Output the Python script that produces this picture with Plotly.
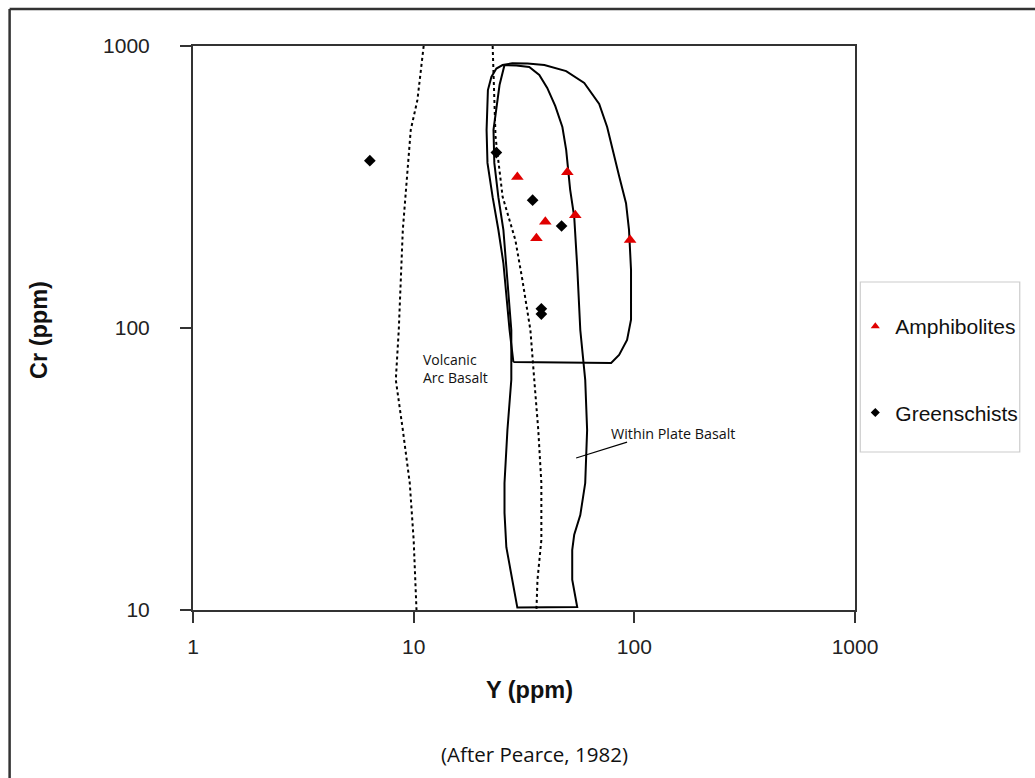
import numpy as np
import plotly.graph_objects as go

# ---------------- data ----------------
amph_y_ppm = [29.5, 49.7, 39.5, 36.0, 54.0, 95.7]
amph_cr_ppm = [343, 357, 238, 208, 251, 205]

green_y_ppm = [6.33, 23.7, 34.6, 46.8, 37.9, 37.9]
green_cr_ppm = [392, 419, 284, 230, 117, 112]

# Within Plate Basalt field (tall narrow polygon)
wpb_y = [25.8, 29.2, 33.4, 37.1, 40.3, 43.8, 47.2, 49.1, 51.2, 53.4, 55.1, 56.9,
         59.9, 61.1, 59.9, 56.9, 53.4, 52.3, 52.3, 54.5, 55.1, 29.5, 28.0, 26.3,
         25.8, 25.8, 26.6, 27.7, 27.7, 26.9, 26.3, 25.5, 24.2, 23.2, 23.0, 23.7,
         24.5, 25.8]
wpb_cr = [856, 853, 842, 789, 710, 613, 516, 428, 309, 248, 165, 98.4,
          65.5, 43.5, 28.2, 21.7, 18.5, 16.3, 12.8, 10.85, 10.25, 10.2, 12.8, 16.7,
          22.1, 28.2, 43.5, 65.5, 98.4, 129, 170, 223, 291, 385, 504, 593,
          727, 856]

# upper rounded field (closed at Cr ~ 75 ppm)
upper_y = [28.3, 78.5, 85.3, 92.7, 96.6, 96.6, 94.6, 91.7, 85.3, 80.1, 75.3, 69.3,
           59.3, 49.1, 39.1, 32.8, 28.0, 25.3, 23.7, 22.5, 21.7, 21.4, 21.6, 22.8,
           24.2, 25.5, 26.3, 27.2, 28.3]
upper_cr = [75.8, 75.1, 80.2, 90.7, 107, 161, 223, 277, 346, 428, 516, 623,
            739, 815, 856, 867, 868, 856, 832, 777, 698, 504, 385, 291,
            223, 170, 129, 98.4, 75.8]

# dotted boundaries
dot1_y = [11.1, 10.4, 9.7, 8.93, 8.56, 8.30, 8.93, 9.60, 10.0, 10.3]
dot1_cr = [1000, 644, 504, 223, 98.4, 65.5, 43.5, 28.2, 17.7, 10]

dot2_y = [22.8, 23.0, 23.5, 25.3, 28.9, 31.1, 33.8, 35.2, 36.7, 37.9, 37.9, 36.4, 36.0]
dot2_cr = [1000, 757, 475, 292, 205, 148, 98.4, 65.5, 43.5, 28.2, 17.7, 12.8, 10]

# label pointer line
ptr_y = [54.5, 92.7]
ptr_cr = [34.6, 39.4]

tick_vals = [1, 10, 100, 1000]
x_tick_text = ["1", "10", "100", "1000"]
y_tick_vals = [10, 100, 1000]
y_tick_text = ["10", "100", "1000"]

# ---------------- layout geometry ----------------
W, H = 1035, 778
L, R, T, B = 192.5, 856.7, 46, 610
pw, ph = R - L, B - T


def px(xp):
    return (xp - L) / pw


def py(yp):
    return (B - yp) / ph


fig = go.Figure()

line_style = dict(color="black", width=2)
dot_style = dict(color="black", width=2, dash="3px,3px")

fig.add_trace(go.Scatter(x=upper_y, y=upper_cr, mode="lines", line=line_style,
                         showlegend=False, hoverinfo="skip"))
fig.add_trace(go.Scatter(x=wpb_y, y=wpb_cr, mode="lines", line=line_style,
                         showlegend=False, hoverinfo="skip"))
fig.add_trace(go.Scatter(x=dot1_y, y=dot1_cr, mode="lines", line=dot_style,
                         showlegend=False, hoverinfo="skip"))
fig.add_trace(go.Scatter(x=dot2_y, y=dot2_cr, mode="lines", line=dot_style,
                         showlegend=False, hoverinfo="skip"))
fig.add_trace(go.Scatter(x=ptr_y, y=ptr_cr, mode="lines",
                         line=dict(color="black", width=1.2),
                         showlegend=False, hoverinfo="skip"))

amph_marker = dict(symbol="triangle-up", size=11, color="#e00000")
green_marker = dict(symbol="diamond", size=9, color="black")

fig.add_trace(go.Scatter(x=amph_y_ppm, y=amph_cr_ppm, mode="markers", name="Amphibolites",
                         legendgroup="a", showlegend=False, marker=amph_marker))
fig.add_trace(go.Scatter(x=green_y_ppm, y=green_cr_ppm, mode="markers", name="Greenschists",
                         legendgroup="g", showlegend=False, marker=green_marker))
# legend entries (smaller symbols as in the original legend)
fig.add_trace(go.Scatter(x=[None], y=[None], mode="markers", name="Amphibolites",
                         legendgroup="a",
                         marker=dict(symbol="triangle-up", size=8, color="#e00000")))
fig.add_trace(go.Scatter(x=[None], y=[None], mode="markers", name="Greenschists",
                         legendgroup="g",
                         marker=dict(symbol="diamond", size=7, color="black")))

axis_common = dict(
    type="log", showgrid=False, zeroline=False, showline=True, mirror=True,
    linecolor="#333333", linewidth=2, ticks="outside", ticklen=11, tickwidth=1.5,
    tickcolor="#333333", tickfont=dict(family="Liberation Sans, Arial", size=21, color="#222222"),
)

fig.update_xaxes(range=[0, 3], tickvals=tick_vals, ticktext=x_tick_text,
                 ticklabelstandoff=6, **axis_common)
fig.update_yaxes(range=[1, 3], tickvals=y_tick_vals, ticktext=y_tick_text,
                 ticklabelstandoff=26, **axis_common)

annotations = [
    dict(text="<b>Cr (ppm)</b>", x=px(38), y=py(330), xref="paper", yref="paper",
         textangle=-90, showarrow=False, xanchor="center", yanchor="middle",
         font=dict(family="Liberation Sans, Arial", size=23.5, color="#111111")),
    dict(text="<b>Y (ppm)</b>", x=px(530), y=py(690), xref="paper", yref="paper",
         showarrow=False, xanchor="center", yanchor="middle",
         font=dict(family="Liberation Sans, Arial", size=23.5, color="#111111")),
    dict(text="(After Pearce, 1982)", x=px(535), y=py(754), xref="paper", yref="paper",
         showarrow=False, xanchor="center", yanchor="middle",
         font=dict(family="Open Sans", size=20.5, color="#111111")),
    dict(text="Volcanic<br>Arc Basalt", x=np.log10(10.8), y=np.log10(71.9),
         xref="x", yref="y", showarrow=False, xanchor="left", yanchor="middle",
         align="left", font=dict(family="Open Sans", size=14, color="#111111")),
    dict(text="Within Plate Basalt", x=np.log10(76.9), y=np.log10(42.3),
         xref="x", yref="y", showarrow=False, xanchor="left", yanchor="middle",
         font=dict(family="Open Sans", size=14.3, color="#111111")),
]

shapes = [
    # legend box
    dict(type="rect", xref="paper", yref="paper", x0=px(862), x1=px(1022),
         y0=py(452), y1=py(282), line=dict(color="#cccccc", width=1.2)),
    # outer frame (left and top edges visible)
    dict(type="line", xref="paper", yref="paper", x0=px(8.5), x1=px(8.5),
         y0=py(9), y1=py(800), line=dict(color="#333333", width=2.5)),
    dict(type="line", xref="paper", yref="paper", x0=px(8.5), x1=px(1100),
         y0=py(9), y1=py(9), line=dict(color="#333333", width=2.5)),
]

fig.update_layout(
    width=W, height=H,
    margin=dict(l=L, r=W - R, t=T, b=H - B),
    paper_bgcolor="white", plot_bgcolor="white",
    showlegend=True,
    legend=dict(x=px(857), y=py(306), xanchor="left", yanchor="top",
                traceorder="grouped", tracegroupgap=56,
                font=dict(family="Liberation Sans, Arial", size=21, color="#111111"),
                bgcolor="rgba(0,0,0,0)", borderwidth=0, itemsizing="trace"),
    annotations=annotations,
    shapes=shapes,
)

fig.write_html("out.html")
